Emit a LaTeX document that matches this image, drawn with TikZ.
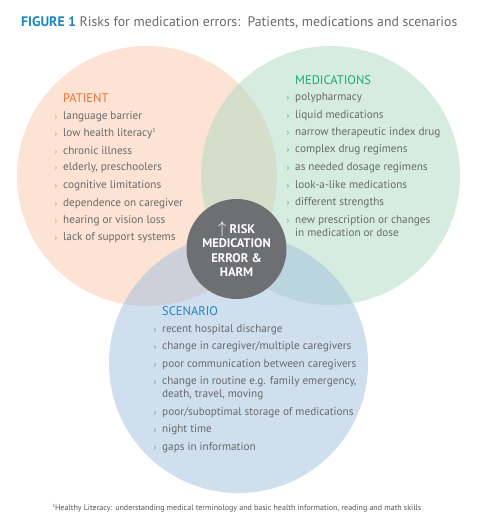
\documentclass[tikz,border=0pt]{standalone}
\usepackage{fontspec}
\setmainfont{PT Sans}
\usetikzlibrary{positioning}

\definecolor{patientfill}{RGB}{249,199,167}
\definecolor{medfill}{RGB}{173,217,193}
\definecolor{scenfill}{RGB}{159,191,221}
\definecolor{patientc}{RGB}{241,112,58}
\definecolor{medc}{RGB}{28,172,110}
\definecolor{scenc}{RGB}{27,134,199}
\definecolor{textgray}{RGB}{104,105,108}
\definecolor{hubgray}{RGB}{110,111,115}

% small coloured arrow in front of each item
\newcommand{\itemmark}[1]{\llap{\textcolor{#1}{\fontsize{8}{8}\selectfont ›}\hspace{6pt}}}
% tiny footnote mark
\newcommand{\notemark}{\raisebox{2.5pt}{\fontsize{4.5}{5}\selectfont 1}}

\tikzset{
  item/.style={anchor=west, inner sep=0pt, text=textgray, align=left,
    font=\fontsize{11.2}{13}\selectfont},
  head/.style={anchor=west, inner sep=0pt, font=\fontsize{12.5}{14}\selectfont},
  venn/.style={fill opacity=.5}
}

\begin{document}
\begin{tikzpicture}[x=1pt,y=-1pt]
\useasboundingbox (0,0) rectangle (477,525);

% title
\node[anchor=west, inner sep=0pt, text=textgray, font=\fontsize{13.8}{16}\selectfont]
  (title) at (21,23) {\textcolor{scenc}{\bfseries FIGURE 1} Risks for medication errors:\ \ Patients, medications and scenarios};

% the three circles
\fill[venn, fill=patientfill] (147,176) circle (130pt);
\fill[venn, fill=medfill] (330.5,175.5) circle (129.5pt);
\fill[venn, fill=scenfill] (238.5,363.5) circle (129.5pt);

% Patient
\node[head, text=patientc] (patient) at (63,98) {PATIENT};
\foreach \yy/\txt [count=\i] in {116.3/language barrier,
  133.3/low health literacy\raisebox{4pt}{\fontsize{6}{6}\selectfont 1},
  150.3/chronic illness, 168/{elderly, preschoolers}, 185.3/cognitive limitations,
  203.3/dependence on caregiver, 220.3/hearing or vision loss, 237.3/lack of support systems}
  \node[item] (pat\i) at (63,\yy) {\itemmark{patientc}\txt};

% Medications
\node[head, text=medc] (medications) at (295,80) {MEDICATIONS};
\foreach \yy/\txt [count=\i] in {97.7/polypharmacy, 115.3/liquid medications,
  132.3/narrow therapeutic index drug, 149.3/complex drug regimens,
  167.3/as needed dosage regimens, 184.3/look-a-like medications, 202.3/different strengths}
  \node[item] (med\i) at (295,\yy) {\itemmark{medc}\txt};
\node[item] (med8) at (295,225.8) {\itemmark{medc}new prescription or changes\\in medication or dose};

% Scenario
\node[head, text=scenc] (scenario) at (162,311) {SCENARIO};
\foreach \yy/\txt [count=\i] in {329.3/recent hospital discharge,
  346.7/{change in caregiver/multiple caregivers}, 364.3/poor communication between caregivers}
  \node[item] (scen\i) at (162,\yy) {\itemmark{scenc}\txt};
\node[item] (scen4) at (162,388) {\itemmark{scenc}change in routine e.g. family emergency,\\death, travel, moving};
\foreach \yy/\txt [count=\i from 5] in {412.3/{poor/suboptimal storage of medications},
  429.3/night time, 447.3/gaps in information}
  \node[item] (scen\i) at (162,\yy) {\itemmark{scenc}\txt};

% centre
\node[circle, fill=hubgray, minimum size=100pt, inner sep=0pt] (hub) at (236.5,249) {};
\node[text=white, align=center, font=\fontsize{12.5}{14.5}\selectfont\bfseries]
  (risk) at (hub.center) {{\fontsize{17}{14.5}\selectfont$\uparrow$} RISK\\MEDICATION\\ERROR \&\\HARM};

% footnote
\node[inner sep=0pt, text=textgray!80!black, font=\fontsize{8}{9}\selectfont]
  (note) at (237,508) {\notemark Healthy Literacy: understanding medical terminology and basic health information, reading and math skills};

\end{tikzpicture}
\end{document}
